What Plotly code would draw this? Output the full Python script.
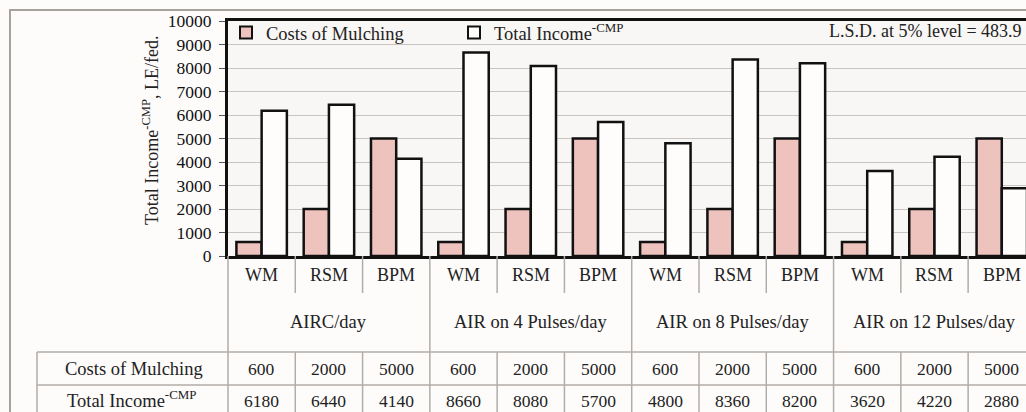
import plotly.graph_objects as go

# ---- data ----
sub_labels = ["WM", "RSM", "BPM"] * 4
group_labels = ["AIRC/day", "AIR on 4 Pulses/day", "AIR on 8 Pulses/day", "AIR on 12 Pulses/day"]
costs = [600, 2000, 5000, 600, 2000, 5000, 600, 2000, 5000, 600, 2000, 5000]
income = [6180, 6440, 4140, 8660, 8080, 5700, 4800, 8360, 8200, 3620, 4220, 2880]
y_ticks = list(range(0, 10001, 1000))

# ---- layout geometry (pixels) ----
W, H = 1026, 412
L, R, T, B = 228, 0, 21, 156
PW, PH = W - L - R, H - T - B
X_RANGE = [-0.5, 11.36]

def px(p):  # pixel x -> paper
    return (p - L) / PW

def py(p):  # pixel y -> paper
    return (H - B - p) / PH

SERIF = "Liberation Serif"
PINK = "#efc3bd"
LINE = "#b3aca7"
TXT = "#222222"
x = list(range(len(costs)))

fig = go.Figure()
fig.add_trace(go.Bar(x=x, y=costs, name="Costs of Mulching",
                     marker=dict(color=PINK, line=dict(color="#111111", width=2.5))))
fig.add_trace(go.Bar(x=x, y=income, name="Total Income<sup>-CMP</sup>",
                     marker=dict(color="#fefdfc", line=dict(color="#111111", width=2.5))))

shapes = []
# outer frame
shapes.append(dict(type="rect", xref="paper", yref="paper", x0=px(10), x1=px(1040),
                   y0=py(430), y1=py(10), line=dict(color="#a8a29d", width=2), layer="below"))
# dividers in label rows and table
for k in range(len(x) - 1):
    xv = k + 0.5
    is_group = (k + 1) % 3 == 0
    if is_group:
        shapes.append(dict(type="line", xref="x", yref="paper", x0=xv, x1=xv,
                           y0=py(256), y1=py(420), line=dict(color=LINE, width=1.5)))
    else:
        shapes.append(dict(type="line", xref="x", yref="paper", x0=xv, x1=xv,
                           y0=py(256), y1=py(293), line=dict(color=LINE, width=1.5)))
        shapes.append(dict(type="line", xref="x", yref="paper", x0=xv, x1=xv,
                           y0=py(352), y1=py(420), line=dict(color=LINE, width=1.5)))
# left edge line below plot
shapes.append(dict(type="line", xref="paper", yref="paper", x0=0, x1=0,
                   y0=py(256), y1=py(420), line=dict(color=LINE, width=1.5)))
# table borders
shapes.append(dict(type="line", xref="paper", yref="paper", x0=px(37), x1=px(37),
                   y0=py(352), y1=py(420), line=dict(color=LINE, width=1.5)))
for yy in (352, 385):
    shapes.append(dict(type="line", xref="paper", yref="paper", x0=px(37), x1=px(1040),
                       y0=py(yy), y1=py(yy), line=dict(color=LINE, width=1.5)))

def txt(xv, yv, s, xref="x", size=18, **kw):
    d = dict(x=xv, y=yv, xref=xref, yref="paper", text=s, showarrow=False,
             xanchor=kw.pop("xanchor", "center"), yanchor="middle",
             font=dict(family=SERIF, size=size, color=TXT))
    d.update(kw)
    return d

ann = []
for i, s in enumerate(sub_labels):
    ann.append(txt(i, py(275), s, size=18))
    ann.append(txt(i, py(369), str(costs[i]), size=17.5))
    ann.append(txt(i, py(401), str(income[i]), size=17.5))
for g, lab in enumerate(group_labels):
    ann.append(txt(3 * g + 1, py(322), lab, size=18.5))
ann.append(txt(px(134), py(369), "Costs of Mulching", xref="paper", size=18.5))
ann.append(txt(px(132), py(399), "Total Income<sup>-CMP</sup>", xref="paper", size=18.5))
ann.append(txt(px(150), py(131), "Total Income<sup>-CMP</sup>, LE/fed.", xref="paper",
               size=18, textangle=-90))
ann.append(txt(px(1024), py(31), "L.S.D. at 5% level = 483.9", xref="paper", xanchor="right",
               size=18))

fig.update_layout(
    width=W, height=H,
    margin=dict(l=L, r=R, t=T, b=B, pad=0),
    paper_bgcolor="#fdfcfb", plot_bgcolor="#f9f7f5",
    barmode="group", bargap=0.25, bargroupgap=0,
    shapes=shapes, annotations=ann,
    legend=dict(orientation="h", x=px(226), y=py(14), xanchor="left", yanchor="top",
                bgcolor="rgba(0,0,0,0)", entrywidth=183, entrywidthmode="pixels",
                font=dict(family=SERIF, size=18.5, color=TXT), itemsizing="constant"),
    xaxis=dict(range=X_RANGE, showticklabels=False, ticks="", showgrid=False,
               showline=True, mirror=True, linecolor="#111", linewidth=3, zeroline=False),
    yaxis=dict(range=[0, 10000], tickvals=y_ticks, tickformat="d", ticks="outside", ticklen=6,
               tickcolor="#555", showline=True, linecolor="#111", linewidth=3,
               gridcolor="#c9c4c0", gridwidth=1, zeroline=False, ticklabelstandoff=4,
               tickfont=dict(family=SERIF, size=17.5, color="#111")),
)

fig.write_html("out.html", config={"displayModeBar": False},
               post_script="document.body.style.margin='0';")
